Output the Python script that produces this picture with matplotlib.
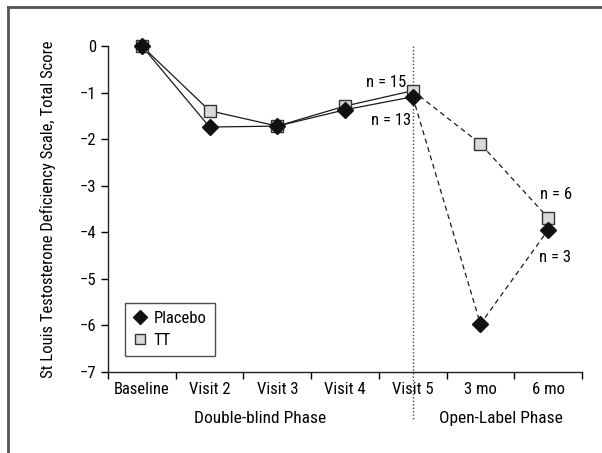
import matplotlib
matplotlib.use("Agg")
import matplotlib.pyplot as plt
from matplotlib.lines import Line2D

plt.rcParams['font.family'] = ['Roboto Condensed', 'Liberation Sans Narrow', 'Liberation Sans', 'DejaVu Sans']
plt.rcParams['axes.unicode_minus'] = True

categories = ["Baseline", "Visit 2", "Visit 3", "Visit 4", "Visit 5", "3 mo", "6 mo"]
placebo = [0.0, -1.74, -1.72, -1.37, -1.09, -5.97, -3.95]
tt = [0.0, -1.39, -1.72, -1.29, -0.96, -2.10, -3.69]
yticks = [0, -1, -2, -3, -4, -5, -6, -7]
phase_labels = ["Double-blind Phase", "Open-Label Phase"]
n_labels = ["n = 15", "n = 13", "n = 6", "n = 3"]

FS = 12
fig = plt.figure(figsize=(6.02, 4.53), dpi=100)
ax = fig.add_axes([108/602, 1-372/453, (582-108)/602, (372-46)/453])

x = list(range(len(categories)))
split = 4
lc = '#1a1a1a'

ax.plot(x[:split+1], tt[:split+1], color=lc, lw=0.9, zorder=2, clip_on=False)
ax.plot(x[:split+1], placebo[:split+1], color=lc, lw=0.9, zorder=2, clip_on=False)
ax.plot(x[split:], tt[split:], color=lc, lw=0.9, ls=(0, (4, 3)), zorder=2, clip_on=False)
ax.plot(x[split:], placebo[split:], color=lc, lw=0.9, ls=(0, (4, 3)), zorder=2, clip_on=False)

ax.plot(x, tt, ls='none', marker='s', ms=8, mfc='#d9d9d9', mec='#333333', mew=1.0,
        zorder=3, clip_on=False, label='TT')
ax.plot(x, placebo, ls='none', marker='D', ms=8.5, mfc='#111111', mec='#111111',
        zorder=4, clip_on=False, label='Placebo')

ax.set_xlim(-0.5, len(categories) - 0.5)
ax.set_ylim(-7, 0)
ax.set_yticks(yticks)
ax.set_yticklabels([("\u2212%d" % -v) if v < 0 else "0" for v in yticks])
ax.set_xticks(x)
ax.set_xticklabels(categories)
ax.set_xticks([i - 0.5 for i in range(len(categories) + 1)], minor=True)
ax.tick_params(axis='x', which='major', length=0, labelsize=FS, pad=7)
ax.tick_params(axis='x', which='minor', length=5, width=1, direction='out')
ax.tick_params(axis='y', length=5, width=1, labelsize=FS, direction='out')
for s in ['top', 'right']:
    ax.spines[s].set_visible(False)
for s in ['left', 'bottom']:
    ax.spines[s].set_linewidth(1)
    ax.spines[s].set_color('#222222')

ax.set_ylabel("St Louis Testosterone Deficiency Scale, Total Score", fontsize=FS, labelpad=17)

ax.plot([split, split], [0, -8.03], color='#444444', lw=1, ls=(0, (1, 1.5)),
        clip_on=False, zorder=1)

ax.text(1.75, -8.0, phase_labels[0], ha='center', va='center', fontsize=12.5)
ax.text(5.3, -8.0, phase_labels[1], ha='center', va='center', fontsize=12.5)

ax.text(split - 0.1, tt[split] + 0.18, n_labels[0], ha='right', va='center', fontsize=FS)
ax.text(split - 0.03, placebo[split] - 0.52, n_labels[1], ha='right', va='center', fontsize=FS)
ax.text(6.12, tt[6] + 0.5, n_labels[2], ha='center', va='center', fontsize=FS)
ax.text(6.1, placebo[6] - 0.6, n_labels[3], ha='center', va='center', fontsize=FS)

handles = [Line2D([], [], ls='none', marker='D', ms=7.5, mfc='#111111', mec='#111111'),
           Line2D([], [], ls='none', marker='s', ms=7.5, mfc='#d9d9d9', mec='#333333')]
leg = ax.legend(handles, ['Placebo', 'TT'], loc='lower left',
                bbox_to_anchor=((125-108)/474, (372-356)/326), fontsize=FS,
                frameon=True, fancybox=False, edgecolor='#222222', handlelength=0.8,
                handletextpad=0.4, borderpad=0.5, labelspacing=0.4, borderaxespad=0)
leg.get_frame().set_linewidth(1)

fig.add_artist(Line2D([8/602, 8/602], [0, 1-7/453], transform=fig.transFigure,
                      color='#555555', lw=2))
fig.add_artist(Line2D([8/602, 1], [1-7/453, 1-7/453], transform=fig.transFigure,
                      color='#555555', lw=2))

fig.savefig("out.png", dpi=100)
